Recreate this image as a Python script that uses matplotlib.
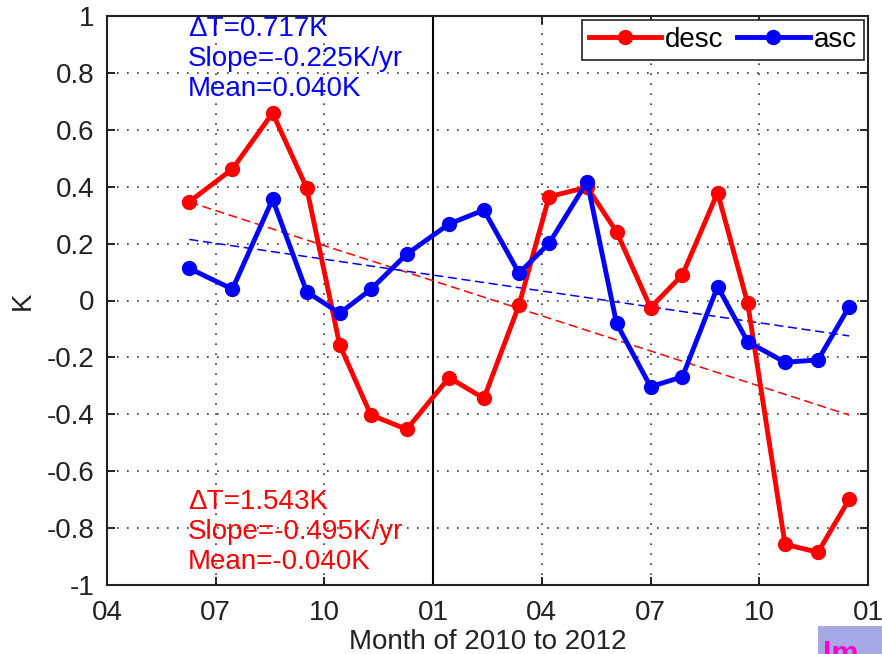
import numpy as np
import matplotlib.pyplot as plt
from matplotlib.patches import Rectangle

# months counted from April 2010 (0 = 04/2010, 21 = 01/2012)
months = [2.27, 3.46, 4.57, 5.51, 6.42, 7.28, 8.27, 9.44, 10.40, 11.37,
          12.20, 13.25, 14.06, 15.00, 15.88, 16.85, 17.68, 18.71, 19.62, 20.48]
desc = [0.347, 0.462, 0.659, 0.396, -0.156, -0.402, -0.453, -0.271, -0.344, -0.016,
        0.365, 0.398, 0.242, -0.025, 0.090, 0.379, -0.010, -0.857, -0.885, -0.699]
asc = [0.113, 0.040, 0.356, 0.031, -0.045, 0.039, 0.163, 0.269, 0.318, 0.096,
       0.201, 0.418, -0.080, -0.303, -0.268, 0.049, -0.145, -0.217, -0.209, -0.022]
tick_pos = [0, 3, 6, 9, 12, 15, 18, 21]
tick_lab = ['04', '07', '10', '01', '04', '07', '10', '01']
desc_txt = ['ΔT=1.543K', 'Slope=-0.495K/yr', 'Mean=-0.040K']
asc_txt = ['ΔT=0.717K', 'Slope=-0.225K/yr', 'Mean=0.040K']

plt.rcParams['font.family'] = ['Liberation Sans', 'DejaVu Sans']
plt.rcParams['font.size'] = 20

fig = plt.figure(figsize=(8.82, 6.54), dpi=100)
ax = fig.add_axes([107/882, 1 - 585/654, 761/882, 569/654])

x = np.array(months)
# linear trends
for y, c in [(desc, 'red'), (asc, 'blue')]:
    p = np.polyfit(x, y, 1)
    xx = np.array([x[0], x[-1]])
    ax.plot(xx, np.polyval(p, xx), color=c, lw=1.1, dashes=(6, 3), zorder=3)

ax.plot(x, desc, '-o', color='red', lw=3.5, ms=10, label='desc', zorder=4)
ax.plot(x, asc, '-o', color='blue', lw=3.5, ms=10, label='asc', zorder=5)

ax.axvline(9, color='black', lw=1.5, zorder=2)

ax.set_xlim(0, 21)
ax.set_ylim(-1, 1)
ax.set_xticks(tick_pos)
ax.set_xticklabels(tick_lab)
ax.set_yticks(np.round(np.arange(-1, 1.01, 0.2), 1))
ax.set_yticklabels(['-1', '-0.8', '-0.6', '-0.4', '-0.2', '0',
                    '0.2', '0.4', '0.6', '0.8', '1'])
ax.tick_params(direction='in', length=6, width=1.2, top=True, right=True,
               labelcolor='#222222')
ax.tick_params(axis='x', pad=11)
ax.tick_params(axis='y', pad=9)
ax.grid(True, color='#333333', lw=1.2, dashes=(1, 5))
for s in ax.spines.values():
    s.set_linewidth(1.5)
    s.set_color('#222222')

ax.set_xlabel('Month of 2010 to 2012', color='#222222', labelpad=2)
ax.set_ylabel('K', color='#222222', labelpad=8)

ax.text(2.24, 1.0, '\n'.join(asc_txt), color='blue', va='top', ha='left',
        linespacing=1.2, zorder=6)
ax.text(2.24, -0.965, '\n'.join(desc_txt), color='red', va='bottom', ha='left',
        linespacing=1.2, zorder=6)

leg = ax.legend(loc='upper right', ncol=2, handlelength=2.6, columnspacing=0.5,
                handletextpad=0.15, borderaxespad=0.15, borderpad=0.25,
                fancybox=False, framealpha=1)
leg.get_frame().set_edgecolor('#222222')
leg.get_frame().set_linewidth(1.2)

# corner overlay seen in the screenshot
fig.patches.append(Rectangle((818/882, 0), 64/882, 28/654, transform=fig.transFigure,
                             facecolor='#a7a9e6', edgecolor='none'))
fig.text(823/882, -9/654, 'Im', color='#ff00cc', fontsize=22, fontweight='bold')

fig.savefig('out.png', dpi=100)
